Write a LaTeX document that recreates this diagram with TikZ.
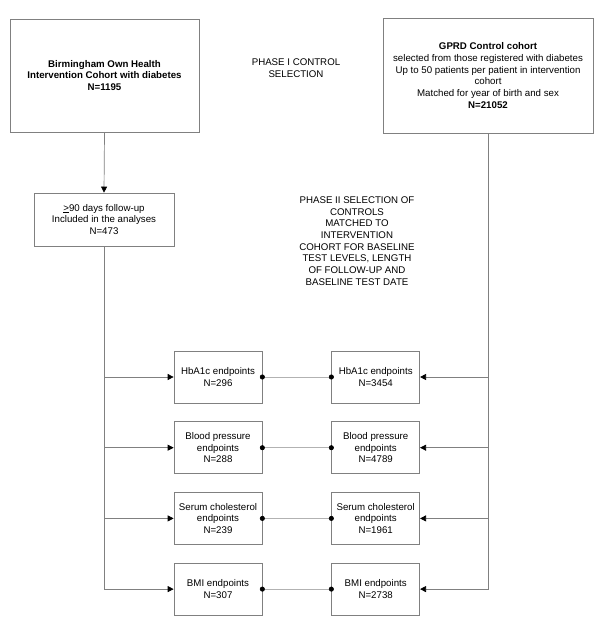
\documentclass[tikz,border=0pt]{standalone}
\usepackage{fontspec}
\setmainfont{Liberation Sans}
\usetikzlibrary{positioning,arrows.meta}

\begin{document}
\begin{tikzpicture}[x=1pt, y=-1pt, node distance=18pt,
        font=\fontsize{9.7}{11.7}\selectfont,
        % Define block style
        block/.style={
        rectangle,
        draw=gray,
        line width=0.7pt,
        align=center,
        inner sep=0pt
        },
        endbox/.style={
        block,
        minimum width=88pt,
        minimum height=52pt
        },
        line/.style={draw=gray, line width=0.7pt},
        arrow/.style={line, -{Triangle[width=6pt,length=6pt,black]}},
        link/.style={draw=gray!60, line width=0.7pt,
        shorten <=-2.5pt, shorten >=-2.5pt,
        {Circle[length=5pt,width=5pt,black]}-{Circle[length=5pt,width=5pt,black]}}
        ]
        \useasboundingbox (0,0) rectangle (600,626);
        % Nodes
        \node[block, minimum width=189pt, minimum height=113pt] (bham) at (104.5,75.5)
            {\bfseries Birmingham Own Health\\\bfseries Intervention Cohort with diabetes\\\bfseries N=1195};
        \node[block, minimum width=210pt, minimum height=115pt] (gprd) at (488,75.5)
            {\bfseries GPRD Control cohort\\selected from those registered with diabetes\\Up to 50 patients per patient in intervention\\cohort\\Matched for year of birth and sex\\\bfseries N=21052};
        \node[align=center] (phase1) at (296,68) {PHASE I CONTROL\\SELECTION};
        \node[block, minimum width=140pt, minimum height=53pt] (fu) at (104,219.5)
            {\underline{>}90 days follow-up\\Included in the analyses\\N=473};
        \node[align=center] (phase2) at (357,241) {PHASE II SELECTION OF\\CONTROLS\\MATCHED TO\\INTERVENTION\\COHORT FOR BASELINE\\TEST LEVELS, LENGTH\\OF FOLLOW-UP AND\\BASELINE TEST DATE};

        \node[endbox] (lhba) at (218,377) {HbA1c endpoints\\N=296};
        \node[endbox, below=of lhba] (lbp) {Blood pressure\\endpoints\\N=288};
        \node[endbox, below=of lbp] (lchol) {Serum cholesterol\\endpoints\\N=239};
        \node[endbox, below=of lchol] (lbmi) {BMI endpoints\\N=307};

        \node[endbox, right=69pt of lhba] (rhba) {HbA1c endpoints\\N=3454};
        \node[endbox, right=69pt of lbp] (rbp) {Blood pressure\\endpoints\\N=4789};
        \node[endbox, right=69pt of lchol] (rchol) {Serum cholesterol\\endpoints\\N=1961};
        \node[endbox, right=69pt of lbmi] (rbmi) {BMI endpoints\\N=2738};

        % Arrows
        \draw[arrow] (bham.south) -- (fu.north);
        \draw[arrow] (fu.south) |- (lhba.west);
        \draw[arrow] (fu.south) |- (lbp.west);
        \draw[arrow] (fu.south) |- (lchol.west);
        \draw[arrow] (fu.south) |- (lbmi.west);
        \draw[arrow] (gprd.south) |- (rhba.east);
        \draw[arrow] (gprd.south) |- (rbp.east);
        \draw[arrow] (gprd.south) |- (rchol.east);
        \draw[arrow] (gprd.south) |- (rbmi.east);
        % Matching links
        \draw[link] (lhba.east) -- (rhba.west);
        \draw[link] (lbp.east) -- (rbp.west);
        \draw[link] (lchol.east) -- (rchol.west);
        \draw[link] (lbmi.east) -- (rbmi.west);
    \end{tikzpicture}
\end{document}
